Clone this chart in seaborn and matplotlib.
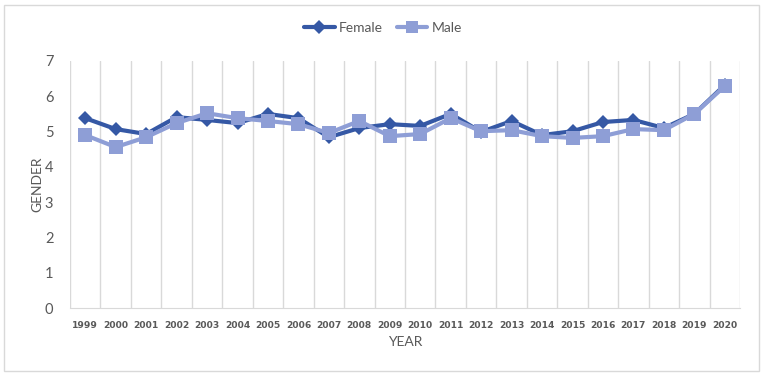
import matplotlib
matplotlib.use("Agg")
import matplotlib.pyplot as plt
import seaborn as sns
import pandas as pd
import numpy as np
from matplotlib.patches import Rectangle
from matplotlib.lines import Line2D

years = [str(y) for y in range(1999, 2021)]
female = [5.38, 5.07, 4.93, 5.41, 5.33, 5.24, 5.50, 5.38, 4.84, 5.10, 5.21,
          5.16, 5.50, 4.99, 5.30, 4.90, 5.01, 5.27, 5.33, 5.10, 5.50, 6.32]
male = [4.90, 4.56, 4.84, 5.24, 5.52, 5.38, 5.30, 5.21, 4.96, 5.30, 4.87,
        4.93, 5.38, 5.01, 5.04, 4.87, 4.82, 4.87, 5.07, 5.04, 5.50, 6.29]
series = ["Female", "Male"]
yticks = [0, 1, 2, 3, 4, 5, 6, 7]

df = pd.DataFrame({
    "pos": list(range(len(years))) * 2,
    "value": female + male,
    "series": ["Female"] * len(years) + ["Male"] * len(years),
})

sns.set_style("white")
plt.rcParams['font.family'] = ['Lato', 'DejaVu Sans']

fig = plt.figure(figsize=(7.63, 3.77), dpi=100)
ax = fig.add_axes([70 / 763, (377 - 308) / 377, (740 - 70) / 763, (308 - 61) / 377])

palette = {"Female": "#3558A5", "Male": "#8E9ED6"}
sns.lineplot(data=df, x="pos", y="value", hue="series", style="series",
             markers={"Female": "D", "Male": "s"}, dashes=False,
             palette=palette, linewidth=3, markersize=8, markeredgewidth=0,
             ax=ax, legend=False)
for ln, mk in zip(ax.lines, [7, 10]):
    ln.set_markersize(mk)

ax.set_xlim(-0.5, len(years) - 0.5)
ax.set_ylim(0, 7)
ax.set_yticks(yticks)
ax.set_yticklabels([str(t) for t in yticks], fontsize=10.5, color="#595959")
ax.set_xticks(range(len(years)))
ax.set_xticklabels(years, fontsize=6.6, color="#595959", fontweight="semibold",
                   family=["DejaVu Sans"])
ax.set_xticks(np.arange(-0.5, len(years), 1), minor=True)
ax.grid(False)
ax.grid(True, which="minor", axis="x", color="#D9D9D9", linewidth=1)
ax.tick_params(axis="both", which="both", length=0)
ax.tick_params(axis="x", pad=9)
ax.tick_params(axis="y", pad=12)
for s in ["top", "right", "left"]:
    ax.spines[s].set_visible(False)
ax.spines["bottom"].set_color("#D9D9D9")

ax.set_xlabel("YEAR", fontsize=10, color="#595959", labelpad=5)
ax.set_ylabel("GENDER", fontsize=10, color="#595959", labelpad=1)

handles = [Line2D([0], [0], color=palette["Female"], marker="D", markersize=7, lw=3, markeredgewidth=0),
           Line2D([0], [0], color=palette["Male"], marker="s", markersize=9, lw=3, markeredgewidth=0)]
fig.legend(handles, series, loc="center", bbox_to_anchor=(383 / 763, 1 - 28 / 377), ncol=2,
           frameon=False, fontsize=10, handlelength=2.2, columnspacing=1.0, handletextpad=0.3,
           labelcolor="#595959")

fig.patches.append(Rectangle((4 / 763, 1 - 371 / 377), 755 / 763, 366 / 377,
                             transform=fig.transFigure, fill=False, edgecolor="#D9D9D9", lw=1))

fig.savefig("out.png", dpi=100)
